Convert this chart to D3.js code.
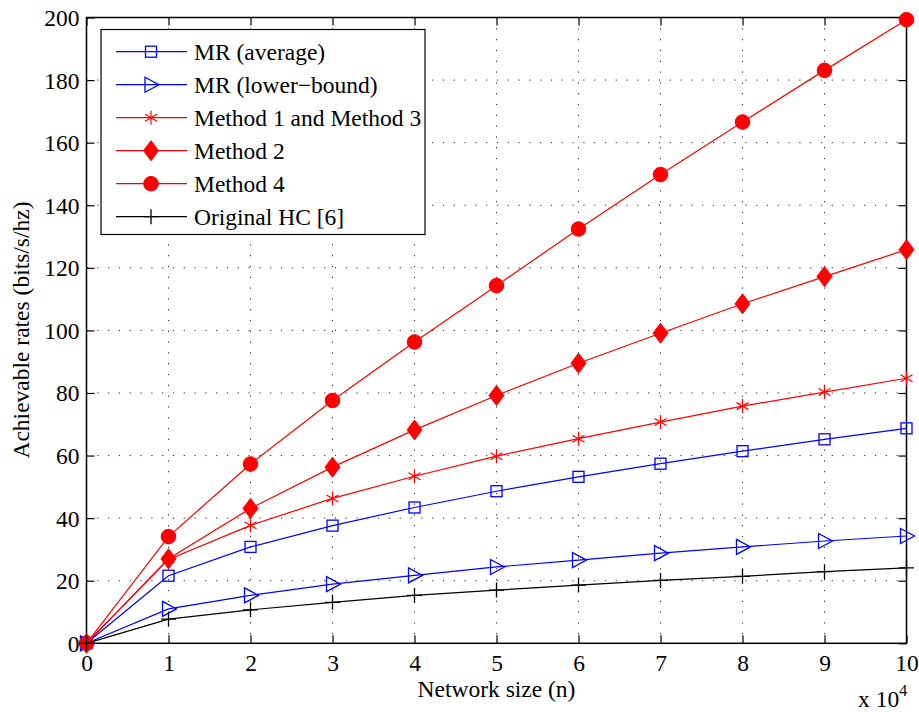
<!DOCTYPE html>
<html><head><meta charset="utf-8">
<script src="https://cdn.jsdelivr.net/npm/d3@7"></script>
<style>body{margin:0;background:#fff}svg{display:block}</style>
</head><body><svg id="c" width="919" height="712"></svg>
<script>
const xVals = [0,1,2,3,4,5,6,7,8,9,10];
const xTicks = [0,1,2,3,4,5,6,7,8,9,10];
const yTicks = [0,20,40,60,80,100,120,140,160,180,200];
const mrAverage = [0,21.6,30.8,37.6,43.4,48.6,53.2,57.4,61.4,65.2,68.7];
const mrLower = [0,11.0,15.3,18.9,21.7,24.4,26.6,28.8,30.8,32.7,34.3];
const method13 = [0,26.8,37.7,46.3,53.4,59.8,65.4,70.7,75.8,80.3,84.7];
const method2 = [0,27.0,43.1,56.3,68.2,79.2,89.5,99.1,108.5,117.2,125.8];
const method4 = [0,34.1,57.3,77.6,96.3,114.3,132.4,149.8,166.6,183.1,199.3];
const originalHC = [0,7.7,10.7,13.1,15.3,17.0,18.6,20.1,21.4,22.9,24.1];
const names = ["MR (average)","MR (lower\u2212bound)","Method 1 and Method 3","Method 2","Method 4","Original HC [6]"];

const series = [
  {name:names[0], values:mrAverage, color:"#0000ff", marker:"square"},
  {name:names[1], values:mrLower, color:"#0000ff", marker:"triangle"},
  {name:names[2], values:method13, color:"#ff0000", marker:"asterisk"},
  {name:names[3], values:method2, color:"#ff0000", marker:"diamond"},
  {name:names[4], values:method4, color:"#ff0000", marker:"circle"},
  {name:names[5], values:originalHC, color:"#000000", marker:"plus"}
];

const FONT = "Liberation Serif";
const FS = "23.5px";
const L=86.5, R=906.5, T=17.5, B=643.3;
const svg = d3.select("#c");
const x = d3.scaleLinear().domain([0,10]).range([L,R]);
const y = d3.scaleLinear().domain([0,200]).range([B,T]);

// grid
const g = svg.append("g");
g.selectAll(".gx").data(xTicks.slice(1,-1)).enter().append("line")
  .attr("x1",d=>x(d)).attr("x2",d=>x(d)).attr("y1",T).attr("y2",B)
  .attr("stroke","#222").attr("stroke-width",1).attr("stroke-dasharray","1.2,9.6");
g.selectAll(".gy").data(yTicks.slice(1,-1)).enter().append("line")
  .attr("y1",d=>y(d)).attr("y2",d=>y(d)).attr("x1",L).attr("x2",R)
  .attr("stroke","#222").attr("stroke-width",1).attr("stroke-dasharray","1.2,9.6");

// axes with inward ticks
const tk = 8;
const axB = svg.append("g").attr("transform",`translate(0,${B})`)
  .call(d3.axisBottom(x).tickValues(xTicks).tickSize(-tk).tickPadding(10).tickFormat(d3.format("d")));
const axT = svg.append("g").attr("transform",`translate(0,${T})`)
  .call(d3.axisTop(x).tickValues(xTicks).tickSize(-tk).tickFormat(""));
const axL = svg.append("g").attr("transform",`translate(${L},0)`)
  .call(d3.axisLeft(y).tickValues(yTicks).tickSize(-tk).tickPadding(7).tickFormat(d3.format("d")));
const axR = svg.append("g").attr("transform",`translate(${R},0)`)
  .call(d3.axisRight(y).tickValues(yTicks).tickSize(-tk).tickFormat(""));
[axB,axT,axL,axR].forEach(a=>{
  a.attr("font-family",FONT).attr("font-size",FS);
  a.select(".domain").remove();
  a.selectAll(".tick line").attr("stroke","#000").attr("stroke-width",1.2);
  a.selectAll("text").style("font-size",FS).style("font-family",FONT).attr("fill","#000");
});
axB.selectAll("text").attr("dy","0.75em");
axL.selectAll("text").attr("dy","0.34em");

svg.append("rect").attr("x",L).attr("y",T).attr("width",R-L).attr("height",B-T)
  .attr("fill","none").attr("stroke","#000").attr("stroke-width",1.5);

// markers
function drawMarker(sel, type, color){
  if(type==="square") sel.append("rect").attr("x",-5.5).attr("y",-5.5).attr("width",11).attr("height",11).attr("fill","none").attr("stroke",color).attr("stroke-width",1.3);
  else if(type==="triangle") sel.append("path").attr("d","M-6,-7.5L8,0L-6,7.5Z").attr("fill","none").attr("stroke",color).attr("stroke-width",1.3);
  else if(type==="asterisk") sel.append("path").attr("d","M0,-7L0,7M-6,-3.5L6,3.5M-6,3.5L6,-3.5").attr("stroke",color).attr("stroke-width",1.2).attr("fill","none");
  else if(type==="diamond") sel.append("path").attr("d","M0,-10L7.5,0L0,10L-7.5,0Z").attr("fill",color).attr("stroke",color).attr("stroke-width",1);
  else if(type==="circle") sel.append("circle").attr("r",7.3).attr("fill",color).attr("stroke",color).attr("stroke-width",1);
  else if(type==="plus") sel.append("path").attr("d","M0,-7.5L0,7.5M-7.5,0L7.5,0").attr("stroke",color).attr("stroke-width",1.3).attr("fill","none");
}

const line = d3.line().x((d,i)=>x(xVals[i])).y(d=>y(d));
series.forEach(s=>{
  const gg = svg.append("g");
  gg.append("path").datum(s.values).attr("d",line).attr("fill","none").attr("stroke",s.color).attr("stroke-width",1.2);
  gg.selectAll(".m").data(s.values).enter().append("g")
    .attr("transform",(d,i)=>`translate(${x(xVals[i])},${y(d)})`)
    .each(function(){drawMarker(d3.select(this), s.marker, s.color);});
});

// legend
const lg = svg.append("g");
lg.append("rect").attr("x",101).attr("y",29.5).attr("width",324).attr("height",205)
  .attr("fill","#fff").attr("stroke","#000").attr("stroke-width",1.2);
series.forEach((s,i)=>{
  const yy = 51.7 + i*33;
  lg.append("line").attr("x1",116).attr("x2",187).attr("y1",yy).attr("y2",yy).attr("stroke",s.color).attr("stroke-width",1.2);
  drawMarker(lg.append("g").attr("transform",`translate(151,${yy})`), s.marker, s.color);
  lg.append("text").attr("x",194).attr("y",yy).attr("dy","0.34em")
    .style("font-family",FONT).style("font-size",FS).attr("fill","#000").text(s.name);
});

// axis labels
svg.append("text").attr("x",(L+R)/2).attr("y",697).attr("text-anchor","middle")
  .style("font-family",FONT).style("font-size",FS).attr("fill","#000").text("Network size (n)");
svg.append("text").attr("transform","translate(29,330) rotate(-90)").attr("text-anchor","middle")
  .style("font-family",FONT).style("font-size",FS).attr("fill","#000").text("Achievable rates (bits/s/hz)");
const ex = svg.append("text").attr("x",858).attr("y",707).style("font-family",FONT).style("font-size",FS).attr("fill","#000");
ex.append("tspan").text("x 10");
ex.append("tspan").attr("dy","-11").style("font-size","16px").text("4");
</script></body></html>
